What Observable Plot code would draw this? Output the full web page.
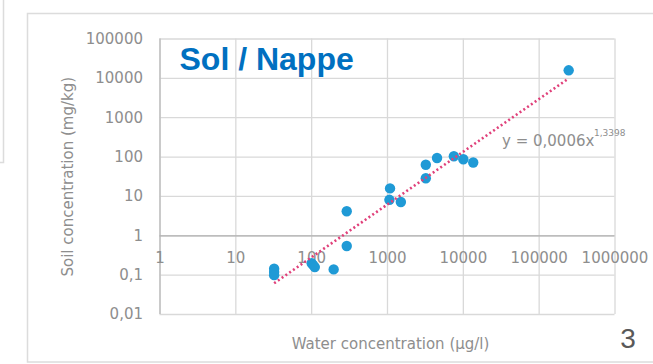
<!DOCTYPE html>
<html>
<head>
<meta charset="utf-8">
<script src="https://cdn.jsdelivr.net/npm/d3@7"></script>
<script src="https://cdn.jsdelivr.net/npm/@observablehq/plot@0.6"></script>
<style>
  html, body { margin: 0; padding: 0; background: #ffffff; }
  #chart { width: 653px; height: 364px; }
</style>
</head>
<body>
<div id="chart"></div>
<script>
// Measured pairs: concentration in groundwater (µg/l) vs. in soil (mg/kg)
const waterConc = [32, 32, 32, 100, 105, 110, 195, 290, 290, 1060, 1080, 1500, 3200, 3200, 4500, 7500, 10000, 13500, 245000];
const soilConc  = [0.145, 0.12, 0.10, 0.2, 0.18, 0.16, 0.14, 0.55, 4.2, 8.2, 16, 7.2, 64, 29, 95, 105, 88, 73, 16000];

// Power-law trend: y = a · x^b
const trendA = 0.0006;
const trendB = 1.3398;
const trendXRange = [32, 245000];

const xTicks = [1, 10, 100, 1000, 10000, 100000, 1000000];
const yTicks = [0.01, 0.1, 1, 10, 100, 1000, 10000, 100000];

const titleText = "Sol / Nappe";
const xTitle = "Water concentration (µg/l)";
const yTitle = "Soil concentration (mg/kg)";
const eqMain = "y = 0,0006x";
const eqExp = "1,3398";
const pageNumber = "3";

const points = waterConc.map((w, i) => ({water: w, soil: soilConc[i]}));
const trend = trendXRange.map(x => ({water: x, soil: trendA * Math.pow(x, trendB)}));

const fmt = d => String(d).replace(".", ",");
const labelFont = "DejaVu Sans";
const gray = "#8e8e8e";

const svg = Plot.plot({
  width: 653,
  height: 364,
  marginLeft: 159.5,
  marginRight: 38.5,
  marginTop: 38.5,
  marginBottom: 50,
  style: {background: "transparent", overflow: "visible"},
  x: {type: "log", domain: [1, 1000000], axis: null},
  y: {type: "log", domain: [0.01, 100000], axis: null},
  marks: [
    Plot.gridX(xTicks, {stroke: "#d9d9d9", strokeOpacity: 1, strokeWidth: 1.3}),
    Plot.gridY(yTicks, {stroke: "#d9d9d9", strokeOpacity: 1, strokeWidth: 1.3}),
    Plot.ruleX([1], {stroke: "#bcbcbc", strokeWidth: 1.3}),
    Plot.ruleY([1], {stroke: "#b0b0b0", strokeWidth: 1.3}),
    // tick labels
    Plot.text(yTicks, {x: () => 1, y: d => d, text: fmt, textAnchor: "end", dx: -17,
      fontFamily: labelFont, fontSize: 15, fill: gray}),
    Plot.text(xTicks, {x: d => d, y: () => 1, text: fmt, dy: 22,
      fontFamily: labelFont, fontSize: 15, fill: gray}),
    // axis titles
    Plot.text([yTitle], {frameAnchor: "left", dx: -92, rotate: -90, textAnchor: "middle",
      fontFamily: labelFont, fontSize: 15, fill: gray}),
    Plot.text([xTitle], {frameAnchor: "bottom", dy: 34, dx: 3,
      fontFamily: labelFont, fontSize: 15, fill: gray}),
    // data
    Plot.dot(points, {x: "water", y: "soil", r: 5.2, fill: "#1f9ad6", stroke: "none"}),
    Plot.line(trend, {x: "water", y: "soil", stroke: "#e0407a", strokeWidth: 2.6,
      strokeDasharray: "2 2.6", strokeLinecap: "butt"}),
    // trend equation
    Plot.text([eqMain], {frameAnchor: "top-left", dx: 342, dy: 96, textAnchor: "start",
      fontFamily: labelFont, fontSize: 15, fill: gray}),
    Plot.text([eqExp], {frameAnchor: "top-left", dx: 434, dy: 91, textAnchor: "start",
      fontFamily: labelFont, fontSize: 9, fill: gray}),
    // heading
    Plot.text([titleText], {frameAnchor: "top-left", dx: 19.5, dy: 8.5, textAnchor: "start", lineAnchor: "top",
      fontFamily: "Liberation Sans", fontWeight: "bold", fontSize: 32, fill: "#0070c0"}),
    // page number
    Plot.text([pageNumber], {frameAnchor: "bottom-right", dx: 13, dy: 33, textAnchor: "middle", lineAnchor: "bottom",
      fontFamily: "Liberation Sans", fontSize: 28, fill: "#595959"})
  ]
});

// surrounding panel outlines
const s = d3.select(svg);
s.insert("rect", ":first-child")
  .attr("x", 27.5).attr("y", 13.5).attr("width", 640).attr("height", 348.5)
  .attr("fill", "none").attr("stroke", "#dcdcdc").attr("stroke-width", 1.5);
s.insert("path", ":first-child")
  .attr("d", "M3.5,0V162.5H-2")
  .attr("fill", "none").attr("stroke", "#dcdcdc").attr("stroke-width", 1.5);

document.getElementById("chart").appendChild(svg);
</script>
</body>
</html>
